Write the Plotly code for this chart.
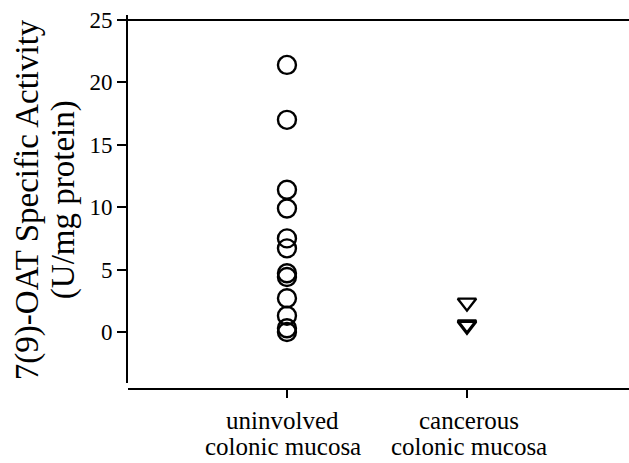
import plotly.graph_objects as go

# Group positions and two-line labels on the category axis
groups = [1, 2]
label_line1 = ["uninvolved", "cancerous"]
label_line2 = ["colonic mucosa", "colonic mucosa"]

# 7(9)-OAT specific activity (U/mg protein) per sample
uninvolved = [21.4, 17.0, 11.4, 9.9, 7.5, 6.7, 4.7, 4.4, 2.7, 1.3, 0.3, 0.0]
cancerous = [2.35, 0.6, 0.5]

y_ticks = [0, 5, 10, 15, 20, 25]
title_lines = ["7(9)-OAT Specific Activity", "(U/mg protein)"]

FONT = "Liberation Serif, Times New Roman, serif"

fig = go.Figure()
fig.add_trace(go.Scatter(
    x=[groups[0]] * len(uninvolved), y=uninvolved, mode="markers",
    marker=dict(symbol="circle-open", size=18, color="black",
                line=dict(width=2.4, color="black")),
    showlegend=False, hoverinfo="y",
))
fig.add_trace(go.Scatter(
    x=[groups[1]] * len(cancerous), y=cancerous, mode="markers",
    marker=dict(symbol="triangle-down-open", size=16, color="black",
                line=dict(width=2.4, color="black")),
    showlegend=False, hoverinfo="y",
))

# top border line at the 25 level
fig.add_shape(type="line", xref="paper", x0=0, x1=1, yref="y", y0=25, y1=25,
              line=dict(color="black", width=2))

# y-axis title, one annotation per line for tighter line spacing
for line, shift in zip(title_lines, [-101, -65]):
    fig.add_annotation(
        text=line, xref="paper", x=0, xshift=shift, yref="paper", y=0.505,
        xanchor="center", yanchor="middle", textangle=-90, showarrow=False,
        font=dict(family=FONT, size=33, color="black"),
    )

# category labels under the x ticks
for g, l1, l2, dx in zip(groups, label_line1, label_line2, [-4, 2]):
    for text, shift in [(l1, -31), (l2, -57)]:
        fig.add_annotation(
            text=text, xref="x", x=g, xshift=dx, yref="paper", y=0, yshift=shift,
            xanchor="center", yanchor="middle", showarrow=False, borderpad=0,
            font=dict(family=FONT, size=25, color="black"),
        )

fig.update_layout(
    width=629, height=463,
    margin=dict(l=128, r=0, t=15, b=74),
    paper_bgcolor="white", plot_bgcolor="white",
    font=dict(family=FONT, color="black"),
    xaxis=dict(
        range=[0.117, 2.9], tickvals=groups, showticklabels=False,
        anchor="free", position=0,
        showline=True, linecolor="black", linewidth=2,
        ticks="outside", ticklen=8, tickwidth=2, tickcolor="black",
        showgrid=False, zeroline=False,
    ),
    yaxis=dict(
        range=[-4.09, 25.4], domain=[0.016, 1], tickvals=y_ticks,
        showline=True, linecolor="black", linewidth=2,
        ticks="outside", ticklen=9, tickwidth=2, tickcolor="black",
        showgrid=False, zeroline=False,
        tickfont=dict(family=FONT, size=23, color="black"),
    ),
)

fig.write_html("out.html")
